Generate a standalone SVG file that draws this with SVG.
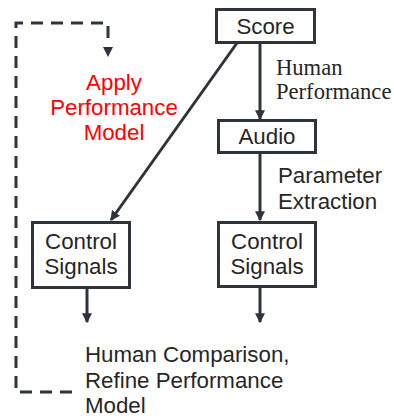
<svg xmlns="http://www.w3.org/2000/svg" width="394" height="420" viewBox="0 0 394 420">
<style>
.box{fill:#fff;stroke:#2f333b;stroke-width:3}
.ln{fill:none;stroke:#2f333b;stroke-width:3}
.dash{fill:none;stroke:#2f333b;stroke-width:3;stroke-dasharray:12 8}
.t{font-family:"Liberation Sans",Arial,sans-serif;font-size:22.3px;fill:#262626}
.s{font-family:"Liberation Serif","Times New Roman",serif;font-size:22.6px;fill:#262626}
.r{font-family:"Liberation Sans",Arial,sans-serif;font-size:22.3px;fill:#ff0000}
.c{text-anchor:middle}
</style>
<defs>
<marker id="ah" markerWidth="10" markerHeight="10" refX="7" refY="4" orient="auto" markerUnits="userSpaceOnUse" viewBox="0 0 8 8">
<path d="M0,0 L8,4 L0,8 z" fill="#2f333b"/>
</marker>
</defs>
<g id="connectors">
<line class="ln" x1="260" y1="43" x2="260" y2="119" marker-end="url(#ah)"/>
<line class="ln" x1="260" y1="152" x2="260" y2="220" marker-end="url(#ah)"/>
<line class="ln" x1="237" y1="43" x2="111" y2="220" marker-end="url(#ah)"/>
<line class="ln" x1="87" y1="288" x2="87" y2="322" marker-end="url(#ah)"/>
<line class="ln" x1="260" y1="287" x2="260" y2="322" marker-end="url(#ah)"/>
<path class="dash" d="M72,392 L16,392 L16,23 L108,23 L108,45"/>
<path d="M103,47 L113,47 L108,57 z" fill="#2f333b"/>
</g>
<g id="score">
<rect class="box" x="216.5" y="9.5" width="98" height="33"/>
<text class="t c" x="265.5" y="34">Score</text>
</g>
<g id="human-performance">
<text class="s" x="276" y="75">Human</text>
<text class="s" x="276" y="99">Performance</text>
</g>
<g id="audio">
<rect class="box" x="218.5" y="120.5" width="97" height="32"/>
<text class="t c" x="267" y="144">Audio</text>
</g>
<g id="parameter-extraction">
<text class="t" x="278" y="183">Parameter</text>
<text class="t" x="278" y="209">Extraction</text>
</g>
<g id="control-left">
<rect class="box" x="32.5" y="222.5" width="97" height="65"/>
<text class="t c" x="81" y="249">Control</text>
<text class="t c" x="81" y="274">Signals</text>
</g>
<g id="control-right">
<rect class="box" x="218.5" y="222.5" width="97" height="64"/>
<text class="t c" x="267" y="249">Control</text>
<text class="t c" x="267" y="274">Signals</text>
</g>
<g id="apply-model">
<text class="r c" x="114" y="90">Apply</text>
<text class="r c" x="114" y="115">Performance</text>
<text class="r c" x="114" y="140">Model</text>
</g>
<g id="comparison">
<text class="t" x="85" y="362">Human Comparison,</text>
<text class="t" x="85" y="388">Refine Performance</text>
<text class="t" x="85" y="413">Model</text>
</g>
</svg>
